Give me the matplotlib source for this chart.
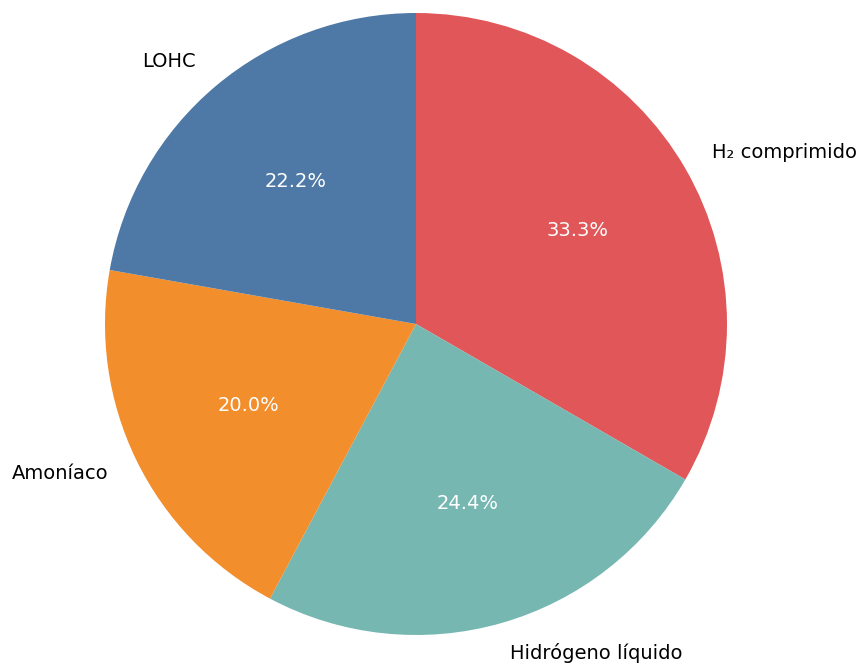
import matplotlib
matplotlib.use("Agg")
from matplotlib import pyplot as plt

metodos = ['H₂ comprimido', 'Hidrógeno líquido', 'Amoníaco', 'LOHC']
proyectos = [15, 11, 9, 10]
cores = ['#E15759', '#76B7B2', '#F28E2B', '#4E79A7']

fig = plt.figure(figsize=(8.6, 6.65), dpi=100)
# eixo quadrado de 777.5 px, centro da pizza em (416, 341)
ax = fig.add_axes([27.25 / 860, -47.75 / 665, 777.5 / 860, 777.5 / 665])

wedges, textos, pcts = ax.pie(proyectos, labels=metodos, colors=cores,
                              autopct='%1.1f%%', startangle=90,
                              counterclock=False,
                              textprops={'fontsize': 14})
for t in pcts:
    t.set_color('white')

ax.set_xlim(-1.25, 1.25)
ax.set_ylim(-1.25, 1.25)
ax.set_aspect('equal')

fig.savefig('out.png', dpi=100)
